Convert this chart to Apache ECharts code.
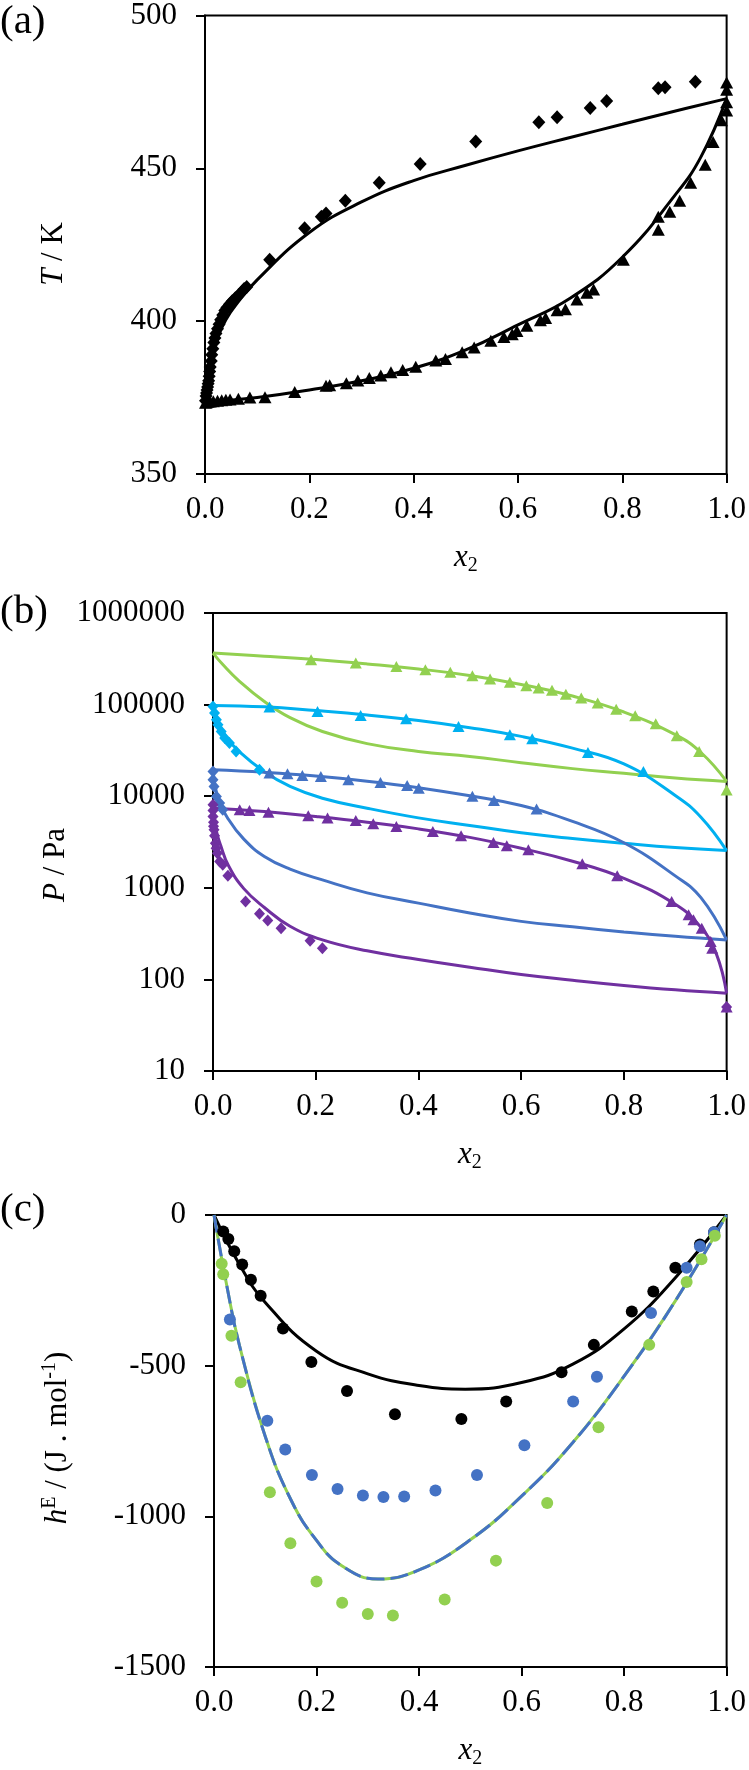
<!DOCTYPE html>
<html><head><meta charset="utf-8">
<script src="https://cdn.jsdelivr.net/npm/echarts/dist/echarts.min.js"></script>
<style>html,body{margin:0;padding:0;background:#fff}#c{width:749px;height:1770px}</style>
</head><body><div id="c"></div><script>
// ---------- Panel (a): T-x diagram ----------
const aXTicks = ['0.0','0.2','0.4','0.6','0.8','1.0'];
const aDewPts = [[0.001,374],[0.002,375.5],[0.003,376.5],[0.004,377.5],[0.005,378.5],[0.006,379.5],[0.007,380.5],[0.008,382],[0.009,383.5],[0.010,385],[0.012,387],[0.013,389],[0.015,391],[0.017,393],[0.019,394.5],[0.021,396],[0.024,397.5],[0.027,399],[0.030,400.5],[0.034,402],[0.038,403.5],[0.042,404.5],[0.047,405.5],[0.052,406.5],[0.058,407.5],[0.064,408.5],[0.070,409.5],[0.075,410.5],[0.080,411.2],
  [0.124,420.1],[0.191,430.4],[0.223,434.2],[0.232,435.2],[0.269,439.4],[0.334,445.3],[0.4125,451.4],[0.519,458.8],[0.640,465.1],[0.675,466.7],[0.7385,469.7],[0.770,472.0],[0.869,476.2],[0.882,476.5],[0.940,478.3]];
const aBubPts = [[0.001,373.3],[0.003,373.5],[0.006,373.6],[0.010,373.7],[0.016,373.8],[0.024,374.0],[0.032,374.1],[0.040,374.3],[0.048,374.4],[0.064,374.6],[0.086,375.0],[0.115,375.1],[0.172,376.8],[0.232,378.9],[0.239,379.0],[0.271,379.7],[0.293,380.6],[0.315,381.4],[0.337,382.2],[0.3565,383.3],[0.379,384.0],[0.404,385.1],[0.4425,387.1],[0.461,387.6],[0.493,389.8],[0.516,391.4],[0.548,393.6],[0.573,394.8],[0.589,395.7],[0.598,396.8],[0.617,398.5],[0.643,400.3],[0.653,401.0],[0.675,403.6],[0.691,403.9],[0.713,407.1],[0.732,409.3],[0.745,410.4],[0.802,420.1],[0.869,429.9],[0.869,434.2],[0.891,435.8],[0.910,439.4],[0.931,445.3],[0.959,451.2],[0.974,458.6],[0.99,465.7],[1.0,468.9],[1.0,471.6],[1.0,475.7],[1.0,478.1]];
const aDewLine = [[0,373.5],[0.003,378],[0.008,383],[0.015,389],[0.025,395],[0.04,400.5],[0.06,405.5],[0.1,413.5],[0.2,429],[0.3,439],[0.4,446],[0.5,451],[0.6,455.7],[0.7,460.1],[0.8,464.4],[0.9,468.7],[1.0,472.8]];
const aBubLine = [[0,373.5],[0.1,375.0],[0.2,377.5],[0.3,380.5],[0.4,384.6],[0.5,390.6],[0.6,398.8],[0.7,407.5],[0.8,420.9],[0.9,441.0],[0.95,453.5],[1.0,472.8]];

// ---------- Panel (b): P-x diagram (log) ----------
const bGreenTri = [[0.191,309000],[0.278,284000],[0.357,261000],[0.4135,240000],[0.462,225000],[0.505,206000],[0.5395,190000],[0.578,175000],[0.610,161000],[0.634,152000],[0.660,143000],[0.687,130000],[0.717,118000],[0.749,104000],[0.785,89000],[0.822,75500],[0.862,61800],[0.903,45700],[0.9465,30800],[1.0,11700]];
const bGreenBub = [[0,365000],[0.1,338000],[0.2,310000],[0.3,278000],[0.4,245000],[0.5,208000],[0.6,166000],[0.7,124000],[0.8,83000],[0.9,47000],[0.95,30000],[1.0,14500]];
const bGreenDew = [[0,365000],[0.02,270000],[0.05,183000],[0.1,108000],[0.15,72000],[0.213,50900],[0.3,37500],[0.4,30800],[0.5,27200],[0.6,23200],[0.7,20000],[0.8,17800],[0.9,15800],[1.0,14500]];
const bCyanTri = [[0.110,94000],[0.2035,84200],[0.2875,76200],[0.376,70000],[0.478,57700],[0.578,46900],[0.6215,42400],[0.730,30000],[0.838,18600]];
const bCyanDia = [[0.0,95500],[0.003,81000],[0.0066,68400],[0.0097,60300],[0.016,50900],[0.0227,43100],[0.032,38000],[0.045,30800],[0.0905,19400]];
const bCyanBub = [[0,98000],[0.1,94500],[0.2,86000],[0.3,77000],[0.4,67000],[0.5,56000],[0.6,45000],[0.7,33500],[0.8,22500],[0.9,10200],[0.95,5900],[1.0,2550]];
const bCyanDew = [[0,98000],[0.01,66000],[0.025,45000],[0.05,31000],[0.1,18500],[0.15,12800],[0.213,9500],[0.3,7400],[0.4,5800],[0.5,4800],[0.6,3980],[0.7,3450],[0.8,3060],[0.9,2750],[1.0,2550]];
const bBlueTri = [[0.110,17900],[0.145,17600],[0.174,16800],[0.210,16400],[0.2636,15100],[0.326,14100],[0.378,13100],[0.4006,12200],[0.505,10000],[0.547,8980],[0.630,7230]];
const bBlueDia = [[0,18600],[0,15100],[0.002,12800],[0.0066,9930],[0.013,8410],[0.019,7100]];
const bBlueBub = [[0,19400],[0.1,18200],[0.2,16600],[0.3,14600],[0.4,12400],[0.5,10100],[0.6,7900],[0.7,5300],[0.8,3100],[0.9,1350],[0.95,780],[1.0,270]];
const bBlueDew = [[0,19400],[0.01,9500],[0.03,5600],[0.06,3400],[0.1,2200],[0.15,1600],[0.213,1220],[0.3,880],[0.4,680],[0.5,530],[0.6,430],[0.7,375],[0.8,330],[0.9,295],[1.0,270]];
const bPurpTri = [[0.052,7100],[0.071,6980],[0.108,6700],[0.1855,6110],[0.223,5770],[0.278,5430],[0.312,5000],[0.357,4670],[0.428,4120],[0.483,3690],[0.546,3120],[0.572,2870],[0.614,2600],[0.719,1830],[0.787,1350],[0.893,708],[0.926,507],[0.9355,447],[0.9516,362],[0.969,259],[0.972,219],[1.0,50]];
const bPurpDia = [[0,8050],[0,7000],[0,6000],[0.001,5200],[0.001,4700],[0.002,4300],[0.003,3700],[0.0046,3070],[0.006,2700],[0.0085,2390],[0.013,1940],[0.019,1780],[0.029,1350],[0.0634,708],[0.0905,520],[0.1066,439],[0.1325,362],[0.189,265],[0.213,219],[1.0,50]];
const bPurpBub = [[0,7400],[0.1,6800],[0.2,6000],[0.3,5200],[0.4,4400],[0.5,3550],[0.6,2700],[0.7,1950],[0.8,1270],[0.9,660],[0.95,370],[0.98,190],[1.0,70.6]];
const bPurpDew = [[0,7400],[0.006,4300],[0.015,2900],[0.03,1750],[0.06,980],[0.1,610],[0.15,380],[0.213,270],[0.3,205],[0.4,165],[0.5,136],[0.6,113],[0.7,98],[0.8,86],[0.9,77],[1.0,70.6]];

// ---------- Panel (c): excess enthalpy ----------
const cBlackPts = [[0.018,-55],[0.028,-80],[0.0395,-120],[0.055,-164],[0.072,-215],[0.091,-268],[0.1345,-377],[0.19,-488],[0.2595,-584],[0.353,-661],[0.4826,-677],[0.570,-619],[0.678,-522],[0.741,-431],[0.815,-320],[0.857,-254],[0.900,-175],[0.948,-98],[0.9755,-57]];
const cBluePts = [[0.031,-347],[0.104,-683],[0.139,-778],[0.191,-863],[0.241,-909],[0.2905,-931],[0.3305,-936],[0.371,-934],[0.432,-914],[0.513,-863],[0.6055,-764],[0.7006,-619],[0.747,-537],[0.8525,-325],[0.922,-175],[0.948,-104],[0.9755,-57]];
const cGreenPts = [[0.015,-162],[0.018,-197],[0.034,-401],[0.052,-555],[0.109,-920],[0.149,-1089],[0.200,-1216],[0.250,-1287],[0.300,-1324],[0.349,-1329],[0.450,-1276],[0.550,-1147],[0.650,-956],[0.750,-704],[0.849,-431],[0.922,-222],[0.951,-147],[0.977,-69]];
const cBlackLine = [[0,0],[0.05,-165],[0.1,-290],[0.2,-452],[0.3,-527],[0.4,-566],[0.49,-578],[0.6,-556],[0.7,-495],[0.8,-378],[0.9,-208],[1.0,0]];
const cDashLine = [[0,0],[0.025,-235],[0.05,-435],[0.1,-735],[0.15,-945],[0.2,-1080],[0.25,-1165],[0.32,-1208],[0.4,-1178],[0.5,-1078],[0.6,-933],[0.7,-755],[0.8,-535],[0.9,-285],[1.0,0]];

// ---------- styling ----------
const FONT = 'Liberation Serif';
const GREEN = '#92D050', CYAN = '#00B0F0', BLUE = '#4472C4', PURPLE = '#7030A0', BLACK = '#000000';
const richStyles = {
  i: {fontStyle:'italic', fontFamily:FONT, fontSize:31, color:'#000', fill:'#000', lineHeight:36},
  s: {fontFamily:FONT, fontSize:20, color:'#000', fill:'#000', verticalAlign:'bottom', lineHeight:36},
  sup: {fontFamily:FONT, fontSize:20, color:'#000', fill:'#000', verticalAlign:'top', lineHeight:36},
  n: {fontFamily:FONT, fontSize:31, color:'#000', fill:'#000', lineHeight:36}
};
function xAxis(gi){
  return {type:'value', gridIndex:gi, min:0, max:1, interval:0.2,
    axisLine:{show:true, onZero:false, lineStyle:{color:'#000', width:2}},
    axisTick:{show:true, length:9, lineStyle:{color:'#000', width:2}},
    axisLabel:{margin:20, fontFamily:FONT, fontSize:31, color:'#000', formatter:v=>aXTicks[Math.round(v/0.2)]},
    splitLine:{show:false},
    name:'{i|x}{s|2}', nameLocation:'middle', nameGap:66,
    nameTextStyle:{fontFamily:FONT, fontSize:31, color:'#000', rich:richStyles}};
}
function yAxis(gi, extra){
  return Object.assign({gridIndex:gi,
    axisLine:{show:true, onZero:false, lineStyle:{color:'#000', width:2}},
    axisTick:{show:true, length:9, lineStyle:{color:'#000', width:2}},
    axisLabel:{margin:28, fontFamily:FONT, fontSize:31, color:'#000', formatter:v=>String(Math.round(v))},
    splitLine:{show:false}}, extra);
}
function scat(gi, data, symbol, size, color){
  return {type:'scatter', xAxisIndex:gi, yAxisIndex:gi, data, symbol, symbolSize:size, itemStyle:{color, opacity:1}, z:3};
}
function line(gi, data, color, width, dash){
  return {type:'line', xAxisIndex:gi, yAxisIndex:gi, data, showSymbol:false, smooth:0.45,
    lineStyle:{color, width:width||3, type:dash||'solid'}, z:2};
}
function yTitle(x, y, text){
  return {type:'text', x, y, rotation:Math.PI/2, z:10,
    style:{text, rich:richStyles, fontFamily:FONT, fontSize:31, fill:'#000', align:'center', verticalAlign:'middle'}};
}

const chart = echarts.init(document.getElementById('c'), null, {renderer:'canvas'});
chart.setOption({
  animation:false,
  backgroundColor:'#fff',
  grid:[
    {left:205, top:13, width:524, height:461, show:true, borderColor:'#000', borderWidth:2, backgroundColor:'transparent'},
    {left:213, top:613, width:516, height:458, show:true, borderColor:'#000', borderWidth:2, backgroundColor:'transparent'},
    {left:214, top:1215, width:515, height:458, show:true, borderColor:'#000', borderWidth:2, backgroundColor:'transparent'}
  ],
  xAxis:[xAxis(0), xAxis(1), xAxis(2)],
  yAxis:[
    yAxis(0, {type:'value', min:350, max:500, interval:50}),
    yAxis(1, {type:'log', logBase:10, min:10, max:1000000}),
    yAxis(2, {type:'value', min:-1500, max:0, interval:500})
  ],
  graphic:[
    {type:'text', left:0, top:2, style:{text:'(a)', fontFamily:FONT, fontSize:41, fill:'#000'}},
    {type:'text', left:0, top:592, style:{text:'(b)', fontFamily:FONT, fontSize:41, fill:'#000'}},
    {type:'text', left:0, top:1190, style:{text:'(c)', fontFamily:FONT, fontSize:41, fill:'#000'}},
    yTitle(54, 254, '{i|T}{n| / K}'),
    yTitle(56, 865, '{i|P}{n| / Pa}'),
    yTitle(58, 1438, '{i|h}{sup|E}{n| / (J . mol}{sup|-1}{n|)}')
  ],
  series:[
    line(0, aDewLine, BLACK, 3), line(0, aBubLine, BLACK, 3),
    scat(0, aDewPts, 'diamond', [13,14], BLACK), scat(0, aBubPts, 'triangle', [13,12], BLACK),

    line(1, bGreenBub, GREEN, 3), line(1, bGreenDew, GREEN, 3),
    line(1, bCyanBub, CYAN, 3), line(1, bCyanDew, CYAN, 3),
    line(1, bBlueBub, BLUE, 3), line(1, bBlueDew, BLUE, 3),
    line(1, bPurpBub, PURPLE, 3), line(1, bPurpDew, PURPLE, 3),
    scat(1, bGreenTri, 'triangle', [12,11], GREEN),
    scat(1, bCyanTri, 'triangle', [12,11], CYAN), scat(1, bCyanDia, 'diamond', [11,12], CYAN),
    scat(1, bBlueTri, 'triangle', [12,11], BLUE), scat(1, bBlueDia, 'diamond', [11,12], BLUE),
    scat(1, bPurpTri, 'triangle', [12,11], PURPLE), scat(1, bPurpDia, 'diamond', [11,12], PURPLE),

    line(2, cBlackLine, BLACK, 3),
    line(2, cDashLine, GREEN, 3),
    line(2, cDashLine, BLUE, 3, [18,6]),
    scat(2, cBlackPts, 'circle', 12, BLACK),
    scat(2, cBluePts, 'circle', 12, BLUE),
    scat(2, cGreenPts, 'circle', 12, GREEN)
  ]
});
</script></body></html>
